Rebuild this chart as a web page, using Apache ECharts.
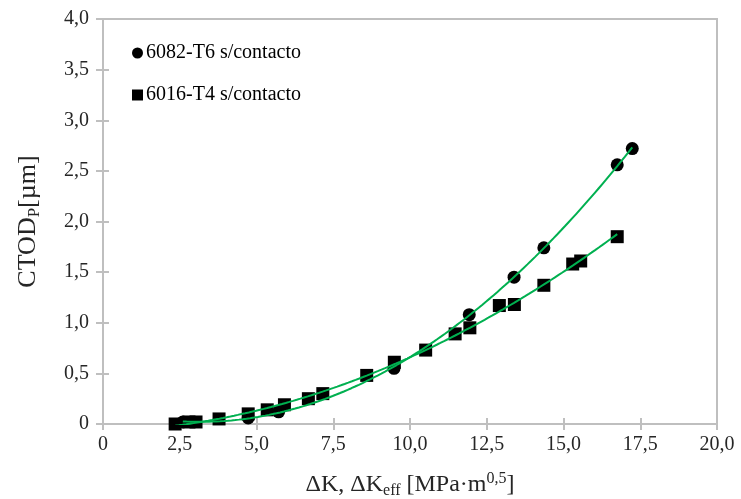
<!DOCTYPE html>
<html>
<head>
<meta charset="utf-8">
<script src="https://cdn.jsdelivr.net/npm/echarts@6/dist/echarts.min.js"></script>
<style>
  html, body { margin: 0; padding: 0; background: #fff; }
  #chart { width: 741px; height: 499px; }
</style>
</head>
<body>
<div id="chart"></div>
<script>
// ΔK values and CTOD_P measurements for each alloy
const seriesNames = ['6082-T6 s/contacto', '6016-T4 s/contacto'];

const dk6082 = [2.6, 4.73, 5.72, 9.48, 11.93, 13.39, 14.36, 16.75, 17.24];
const ctod6082 = [0.02, 0.06, 0.12, 0.55, 1.08, 1.45, 1.74, 2.56, 2.72];

const dk6016 = [2.35, 2.80, 3.03, 3.78, 4.73, 5.35, 5.91, 6.69, 7.16, 8.59, 9.49, 10.51, 11.47, 11.95, 12.91, 13.40, 14.36, 15.30, 15.56, 16.75];
const ctod6016 = [0.00, 0.02, 0.02, 0.05, 0.10, 0.14, 0.19, 0.25, 0.30, 0.48, 0.61, 0.73, 0.89, 0.95, 1.17, 1.18, 1.37, 1.58, 1.61, 1.85];

const xTicks = { min: 0, max: 20, step: 2.5 };
const yTicks = { min: 0, max: 4, step: 0.5 };

// second-order least-squares polynomial trendline
function polyFit2(xs, ys) {
  let s0 = xs.length, s1 = 0, s2 = 0, s3 = 0, s4 = 0, t0 = 0, t1 = 0, t2 = 0;
  for (let i = 0; i < xs.length; i++) {
    const x = xs[i], y = ys[i], x2 = x * x;
    s1 += x; s2 += x2; s3 += x2 * x; s4 += x2 * x2;
    t0 += y; t1 += x * y; t2 += x2 * y;
  }
  const M = [[s0, s1, s2, t0], [s1, s2, s3, t1], [s2, s3, s4, t2]];
  for (let c = 0; c < 3; c++) {
    let p = c;
    for (let r = c + 1; r < 3; r++) if (Math.abs(M[r][c]) > Math.abs(M[p][c])) p = r;
    [M[c], M[p]] = [M[p], M[c]];
    for (let r = 0; r < 3; r++) {
      if (r === c) continue;
      const f = M[r][c] / M[c][c];
      for (let k = c; k < 4; k++) M[r][k] -= f * M[c][k];
    }
  }
  const coef = [M[0][3] / M[0][0], M[1][3] / M[1][1], M[2][3] / M[2][2]];
  const lo = Math.min(...xs), hi = Math.max(...xs);
  const pts = [];
  const n = 120;
  for (let i = 0; i <= n; i++) {
    const x = lo + (hi - lo) * i / n;
    pts.push([x, coef[0] + coef[1] * x + coef[2] * x * x]);
  }
  return pts;
}

const zip = (a, b) => a.map((v, i) => [v, b[i]]);
const fmt = v => (v === 0 ? '0' : v.toFixed(1).replace('.', ','));

const font = '"Liberation Serif", "Times New Roman", serif';
const axisGray = '#bfbfbf';
const lineGreen = '#00b050';
const textColor = '#262626';

const chart = echarts.init(document.getElementById('chart'), null, { renderer: 'canvas' });

const baseX = {
  type: 'value', min: xTicks.min, max: xTicks.max, interval: xTicks.step,
  splitLine: { show: false }
};
const baseY = {
  type: 'value', min: yTicks.min, max: yTicks.max, interval: yTicks.step,
  splitLine: { show: false }
};

chart.setOption({
  animation: false,
  backgroundColor: '#ffffff',
  grid: {
    left: 103, right: 24, top: 19, bottom: 75,
    containLabel: false, outerBoundsMode: 'none',
    show: true, borderColor: axisGray, borderWidth: 2, backgroundColor: 'transparent'
  },
  legend: {
    data: [
      { name: seriesNames[0], icon: 'circle' },
      { name: seriesNames[1], icon: 'rect' }
    ],
    orient: 'vertical',
    left: 127, top: 38,
    itemWidth: 11, itemHeight: 11, itemGap: 22,
    itemStyle: { color: '#000', opacity: 1 },
    textStyle: { fontFamily: font, fontSize: 20, color: '#000', padding: [0, 0, 0, -2] }
  },
  xAxis: [
    Object.assign({}, baseX, {
      position: 'bottom',
      axisLine: { show: true, lineStyle: { color: axisGray, width: 2 } },
      axisTick: { show: true, inside: false, length: 6, lineStyle: { color: axisGray, width: 2 } },
      axisLabel: { formatter: fmt, fontFamily: font, fontSize: 20, color: textColor, margin: 11 },
      name: '{t|ΔK, ΔK}{sub|eff}{t| [MPa·m}{sup|0,5}{t|]}',
      nameLocation: 'middle', nameGap: 47,
      nameTextStyle: {
        rich: {
          t: { fontFamily: font, fontSize: 24, color: textColor, lineHeight: 28, verticalAlign: 'middle' },
          sub: { fontFamily: font, fontSize: 16, color: textColor, lineHeight: 28, verticalAlign: 'bottom', padding: [14, 0, 0, 0] },
          sup: { fontFamily: font, fontSize: 16, color: textColor, lineHeight: 28, verticalAlign: 'top', padding: [0, 0, 9, 0] }
        }
      }
    }),
    Object.assign({}, baseX, {
      position: 'bottom',
      axisLine: { show: false },
      axisTick: { show: true, inside: true, length: 6, lineStyle: { color: axisGray, width: 2 } },
      axisLabel: { show: false }
    })
  ],
  yAxis: [
    Object.assign({}, baseY, {
      position: 'left',
      axisLine: { show: true, lineStyle: { color: axisGray, width: 2 } },
      axisTick: { show: true, inside: false, length: 7, lineStyle: { color: axisGray, width: 2 } },
      axisLabel: { formatter: fmt, fontFamily: font, fontSize: 20, color: textColor, margin: 14 },
      name: '{t|CTOD}{sub|P}{t|[µm]}',
      nameLocation: 'middle', nameGap: 60, nameRotate: 90,
      nameTextStyle: {
        rich: {
          t: { fontFamily: font, fontSize: 26, color: textColor, lineHeight: 30, verticalAlign: 'middle' },
          sub: { fontFamily: font, fontSize: 17, color: textColor, lineHeight: 30, verticalAlign: 'bottom', padding: [15, 0, 0, 0] }
        }
      }
    }),
    Object.assign({}, baseY, {
      position: 'left',
      axisLine: { show: false },
      axisTick: { show: true, inside: true, length: 6, lineStyle: { color: axisGray, width: 2 } },
      axisLabel: { show: false }
    })
  ],
  series: [
    {
      name: seriesNames[0], type: 'scatter', xAxisIndex: 0, yAxisIndex: 0,
      symbol: 'circle', symbolSize: 13, z: 2,
      itemStyle: { color: '#000', opacity: 1 },
      data: zip(dk6082, ctod6082)
    },
    {
      name: seriesNames[1], type: 'scatter', xAxisIndex: 0, yAxisIndex: 0,
      symbol: 'rect', symbolSize: 13, z: 3,
      itemStyle: { color: '#000', opacity: 1 },
      data: zip(dk6016, ctod6016)
    },
    {
      name: 'trend-6082', type: 'line', xAxisIndex: 0, yAxisIndex: 0,
      showSymbol: false, symbol: 'none', z: 5, silent: true,
      lineStyle: { color: lineGreen, width: 2 },
      data: polyFit2(dk6082, ctod6082)
    },
    {
      name: 'trend-6016', type: 'line', xAxisIndex: 0, yAxisIndex: 0,
      showSymbol: false, symbol: 'none', z: 5, silent: true,
      lineStyle: { color: lineGreen, width: 2 },
      data: polyFit2(dk6016, ctod6016)
    }
  ]
});
</script>
</body>
</html>
